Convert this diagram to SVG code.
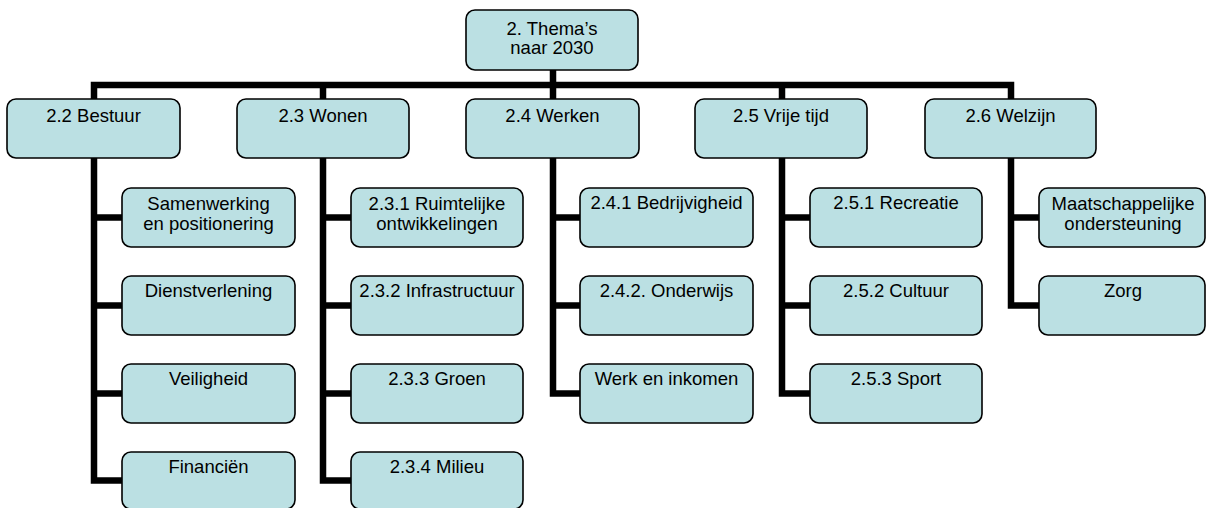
<svg xmlns="http://www.w3.org/2000/svg" width="1206" height="508" viewBox="0 0 1206 508">
<style>
.box{fill:#BBE0E3;stroke:#000;stroke-width:1.6}
.t{font-family:"Liberation Sans",Arial,sans-serif;font-size:18.5px;fill:#000;text-anchor:middle}
.c{fill:none;stroke:#000;stroke-width:6.5;stroke-linejoin:miter;stroke-linecap:butt}
</style>
<rect width="1206" height="508" fill="#fff"/>
<g id="connectors">
<path class="c" d="M553 70 V85 M94 99 V85 H1011 V99 M323 85 V99 M553 85 V99 M782 85 V99"/>
<path class="c" d="M94 158 V480.5 H122 M94 217.5 H122 M94 305.5 H122 M94 393.5 H122"/>
<path class="c" d="M323 158 V480.5 H351 M323 217.5 H351 M323 305.5 H351 M323 393.5 H351"/>
<path class="c" d="M553 158 V393.5 H580 M553 217.5 H580 M553 305.5 H580"/>
<path class="c" d="M782 158 V393.5 H810 M782 217.5 H810 M782 305.5 H810"/>
<path class="c" d="M1011 158 V305.5 H1039 M1011 217.5 H1039"/>
</g>
<g id="root"><rect class="box" x="466" y="10" width="172" height="60" rx="9"/><text class="t" x="552" y="34.5">2. Thema’s</text><text class="t" x="552" y="54">naar 2030</text></g>
<g id="n22"><rect class="box" x="7" y="99" width="173" height="59" rx="9"/><text class="t" x="93.5" y="121.5">2.2 Bestuur</text></g>
<g id="n23"><rect class="box" x="237" y="99" width="172" height="59" rx="9"/><text class="t" x="323" y="121.5">2.3 Wonen</text></g>
<g id="n24"><rect class="box" x="466" y="99" width="173" height="59" rx="9"/><text class="t" x="552.5" y="121.5">2.4 Werken</text></g>
<g id="n25"><rect class="box" x="695" y="99" width="172" height="59" rx="9"/><text class="t" x="781" y="121.5">2.5 Vrije tijd</text></g>
<g id="n26"><rect class="box" x="925" y="99" width="171" height="59" rx="9"/><text class="t" x="1010.5" y="121.5">2.6 Welzijn</text></g>

<g id="n221"><rect class="box" x="122" y="188" width="173" height="59" rx="9"/><text class="t" x="208.5" y="210">Samenwerking</text><text class="t" x="208.5" y="230">en positionering</text></g>
<g id="n222"><rect class="box" x="122" y="276" width="173" height="59" rx="9"/><text class="t" x="208.5" y="297">Dienstverlening</text></g>
<g id="n223"><rect class="box" x="122" y="364" width="173" height="59" rx="9"/><text class="t" x="208.5" y="385">Veiligheid</text></g>
<g id="n224"><rect class="box" x="122" y="452" width="173" height="57" rx="9"/><text class="t" x="208.5" y="473">Financiën</text></g>

<g id="n231"><rect class="box" x="351" y="188" width="172" height="59" rx="9"/><text class="t" x="437" y="210">2.3.1 Ruimtelijke</text><text class="t" x="437" y="230">ontwikkelingen</text></g>
<g id="n232"><rect class="box" x="351" y="276" width="172" height="59" rx="9"/><text class="t" x="437" y="297">2.3.2 Infrastructuur</text></g>
<g id="n233"><rect class="box" x="351" y="364" width="172" height="59" rx="9"/><text class="t" x="437" y="385">2.3.3 Groen</text></g>
<g id="n234"><rect class="box" x="351" y="452" width="172" height="57" rx="9"/><text class="t" x="437" y="473">2.3.4 Milieu</text></g>

<g id="n241"><rect class="box" x="580" y="188" width="173" height="59" rx="9"/><text class="t" x="666.5" y="209">2.4.1 Bedrijvigheid</text></g>
<g id="n242"><rect class="box" x="580" y="276" width="173" height="59" rx="9"/><text class="t" x="666.5" y="297">2.4.2. Onderwijs</text></g>
<g id="n243"><rect class="box" x="580" y="364" width="173" height="59" rx="9"/><text class="t" x="666.5" y="385">Werk en inkomen</text></g>

<g id="n251"><rect class="box" x="810" y="188" width="172" height="59" rx="9"/><text class="t" x="896" y="209">2.5.1 Recreatie</text></g>
<g id="n252"><rect class="box" x="810" y="276" width="172" height="59" rx="9"/><text class="t" x="896" y="297">2.5.2 Cultuur</text></g>
<g id="n253"><rect class="box" x="810" y="364" width="172" height="59" rx="9"/><text class="t" x="896" y="385">2.5.3 Sport</text></g>

<g id="n261"><rect class="box" x="1039" y="188" width="166" height="59" rx="9"/><text class="t" x="1123" y="210">Maatschappelijke</text><text class="t" x="1123" y="230">ondersteuning</text></g>
<g id="n262"><rect class="box" x="1039" y="276" width="166" height="59" rx="9"/><text class="t" x="1123" y="297">Zorg</text></g>
</svg>
